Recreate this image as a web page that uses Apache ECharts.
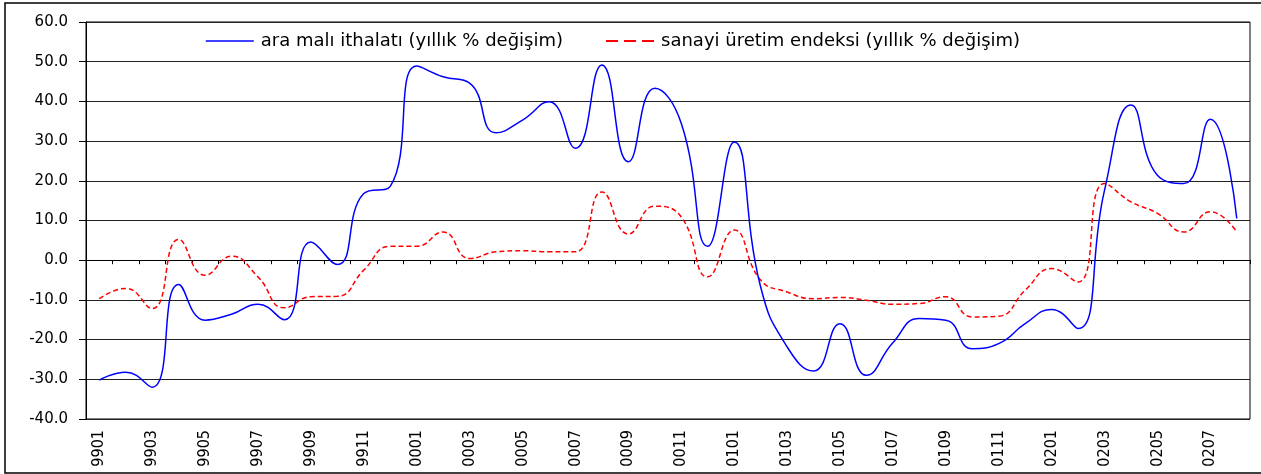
<!DOCTYPE html>
<html>
<head>
<meta charset="utf-8">
<script src="https://cdn.jsdelivr.net/npm/echarts@6/dist/echarts.min.js"></script>
<style>
    html, body { margin: 0; padding: 0; background: #fff; }
    #main { width: 1261px; height: 474px; }
</style>
</head>
<body>
<div id="main"></div>
<script>
// aylar: 1999 Ocak - 2002 Ağustos
var months = [
    "9901", "9902", "9903", "9904", "9905", "9906", "9907", "9908", "9909", "9910", "9911", "9912",
    "0001", "0002", "0003", "0004", "0005", "0006", "0007", "0008", "0009", "0010", "0011", "0012",
    "0101", "0102", "0103", "0104", "0105", "0106", "0107", "0108", "0109", "0110", "0111", "0112",
    "0201", "0202", "0203", "0204", "0205", "0206", "0207", "0208"
];

// ara malı ithalatı (yıllık % değişim)
var araMali = [
    -30.2, -28.2, -32.0, -6.1, -15.1, -13.6, -11.1, -15.0, 4.6, -1.1, 16.8, 18.6,
    48.9, 46.2, 44.6, 32.1, 35.3, 39.9, 28.2, 49.2, 24.8, 43.3, 34.5, 3.5,
    29.8, -6.7, -21.8, -27.9, -16.0, -29.0, -20.8, -14.7, -15.1, -22.3, -21.0, -16.0,
    -12.4, -17.2, 17.6, 39.1, 21.4, 19.3, 35.5, 10.5
];

// sanayi üretim endeksi (yıllık % değişim)
var sanayi = [
    -9.7, -7.1, -12.2, 5.2, -3.8, 1.0, -4.2, -12.0, -9.2, -9.1, -2.5, 3.5,
    3.5, 7.1, 0.4, 2.1, 2.4, 2.1, 2.1, 17.2, 6.6, 13.6, 10.9, -4.2,
    7.6, -5.0, -8.0, -9.7, -9.4, -10.1, -11.1, -10.9, -9.2, -14.3, -14.1, -7.6,
    -2.1, -5.5, 19.3, 14.7, 11.8, 7.1, 12.2, 7.1
];

var seriesNames = ["ara malı ithalatı (yıllık % değişim)", "sanayi üretim endeksi (yıllık % değişim)"];

var yMin = -40, yMax = 60, yStep = 10;

var chart = echarts.init(document.getElementById("main"), null, { renderer: "canvas" });

var option = {
    animation: false,
    backgroundColor: "#fff",
    textStyle: { fontFamily: "DejaVu Sans, Verdana, sans-serif", color: "#000" },
    //dış çerçeve
    graphic: [{
        type: "rect",
        shape: { x: 5, y: 3, width: 1262, height: 470 },
        style: { fill: null, stroke: "#000", lineWidth: 1.5 },
        silent: true
    }],
    legend: {
        orient: "horizontal",
        left: 200,
        top: 27,
        itemWidth: 48,
        itemHeight: 12,
        itemGap: 42,
        itemStyle: { opacity: 0 },
        textStyle: { fontSize: 18, color: "#000", fontFamily: "DejaVu Sans, Verdana, sans-serif", padding: [0, 0, 0, 2] },
        data: [
            { name: seriesNames[0], lineStyle: { color: "#0000ff", width: 1.5, type: "solid" } },
            { name: seriesNames[1], lineStyle: { color: "#ff0000", width: 2, type: [12, 6] } }
        ]
    },
    grid: {
        left: 86,
        right: 11,
        top: 22,
        bottom: 55,
        containLabel: false,
        outerBoundsMode: "none",
        show: true,
        borderColor: "#000",
        borderWidth: 1
    },
    xAxis: [{
        //sıfır çizgisi üzerindeki eksen (sadece çentikler)
        type: "category",
        data: months,
        boundaryGap: true,
        position: "bottom",
        axisLine: { onZero: true, lineStyle: { color: "#000", width: 1 } },
        axisTick: { show: true, interval: 0, length: 4, lineStyle: { color: "#000" } },
        axisLabel: { show: false },
        splitLine: { show: false }
    }, {
        //alttaki etiketler
        type: "category",
        data: months,
        boundaryGap: true,
        position: "bottom",
        axisLine: { show: false, onZero: false },
        axisTick: { show: false },
        axisLabel: {
            interval: 1,
            rotate: 90,
            margin: 11,
            fontSize: 16,
            color: "#000",
            fontFamily: "'Liberation Sans Narrow', 'DejaVu Sans Condensed', 'Arial Narrow', sans-serif"
        },
        splitLine: { show: false }
    }],
    yAxis: {
        type: "value",
        min: yMin,
        max: yMax,
        interval: yStep,
        axisLine: { show: true, lineStyle: { color: "#000" } },
        axisTick: { show: true, length: 7, lineStyle: { color: "#000" } },
        axisLabel: {
            margin: 18,
            fontSize: 15,
            color: "#000",
            formatter: function (v) { return v.toFixed(1); }
        },
        splitLine: { show: true, lineStyle: { color: "#222", width: 1 } }
    },
    series: [{
        name: seriesNames[0],
        type: "line",
        xAxisIndex: 0,
        data: araMali,
        smooth: 0.5,
        symbol: "none",
        lineStyle: { color: "#0000ff", width: 1.5 },
        itemStyle: { color: "#0000ff" },
        z: 3
    }, {
        name: seriesNames[1],
        type: "line",
        xAxisIndex: 0,
        data: sanayi,
        smooth: 0.5,
        symbol: "none",
        lineStyle: { color: "#ff0000", width: 1.5, type: [5, 3] },
        itemStyle: { color: "#ff0000" },
        z: 2
    }]
};

chart.setOption(option);
</script>
</body>
</html>
